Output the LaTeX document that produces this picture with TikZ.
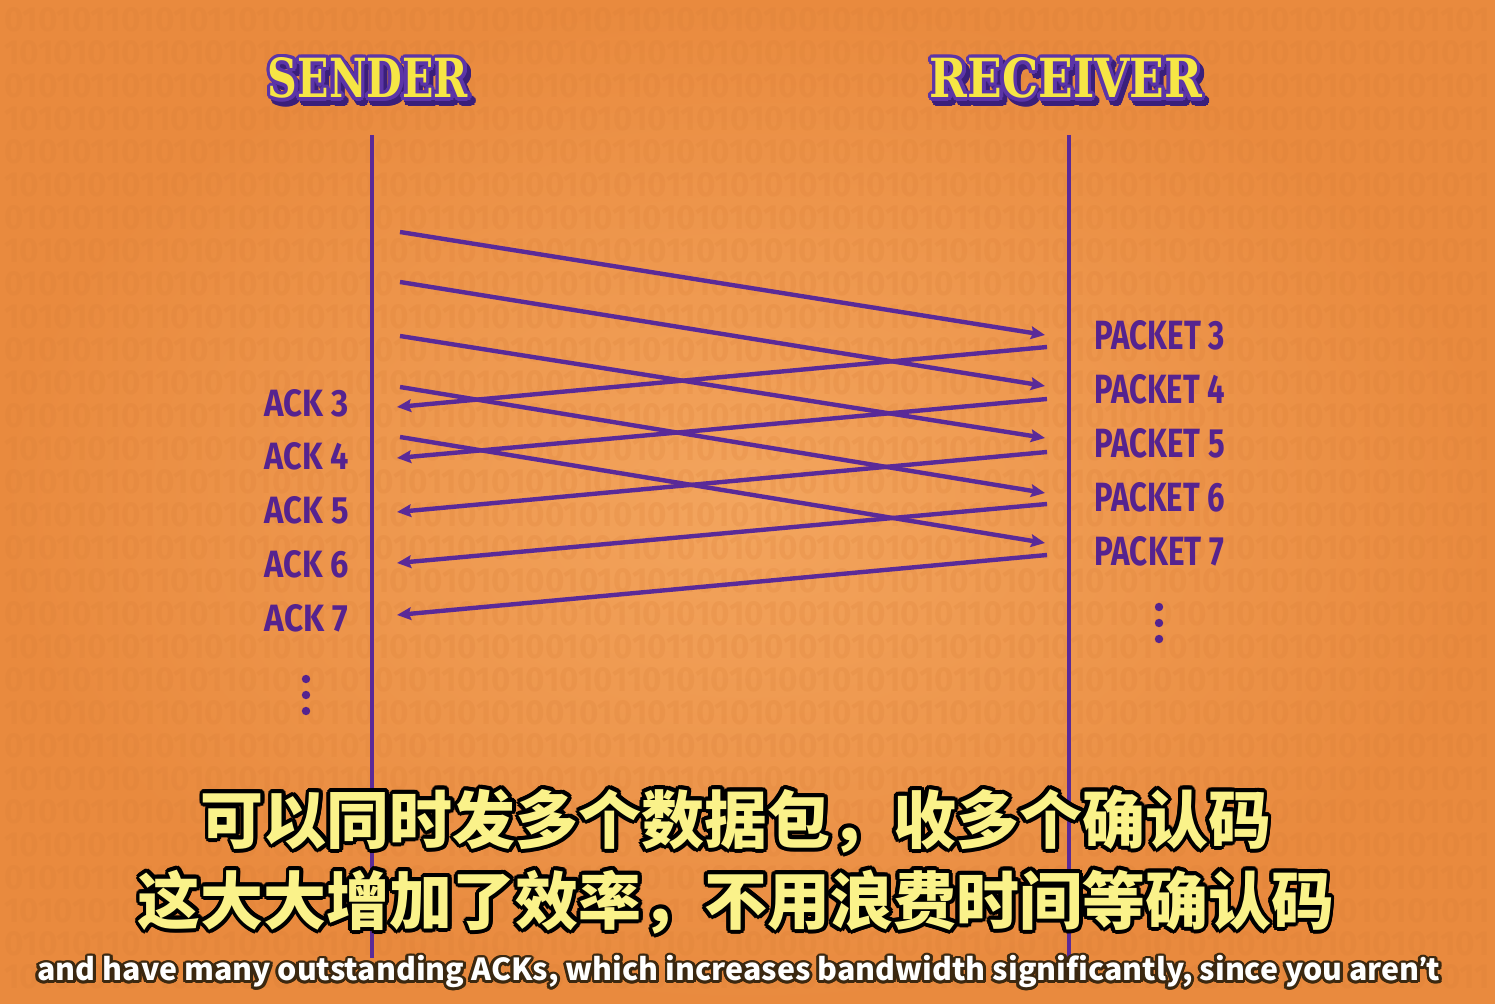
\documentclass[tikz,border=0pt]{standalone}
\usepackage{fontspec}
\setmainfont{Fira Sans}
\newfontfamily\cjkfont{Noto Sans CJK SC}
\newfontfamily\titlefont{DejaVu Serif}
\usetikzlibrary{arrows.meta}
\definecolor{bgin}{HTML}{F3A55E}
\definecolor{bgout}{HTML}{E98A3E}
\definecolor{lin}{HTML}{5A2A98}
\definecolor{lab}{HTML}{55238F}
\definecolor{ttlyel}{HTML}{F6E645}
\definecolor{ttlout}{HTML}{5B35A8}
\definecolor{ttlshd}{HTML}{3A1F7A}
\definecolor{subyel}{HTML}{FAF28A}
\definecolor{digitcol}{HTML}{D97E36}
\definecolor{engout}{HTML}{3B2810}
% outlined text: name, position, fill colour, outline colour, outline radius, content
\newcommand\outtxt[6]{%
  \foreach \a in {0,22.5,...,337.5}{\node[text=#4,inner sep=0pt] at ([shift={(\a:#5)}]#2) {#6};}
  \node[text=#3,inner sep=0pt] (#1) at (#2) {#6};}
\begin{document}
\begin{tikzpicture}[x=0.01cm,y=-0.01cm,
  vline/.style={draw=lin,line width=1pt},
  msg/.style={draw=lin,line width=1.25pt,-{Stealth[length=4pt,width=3.6pt,inset=0.6pt]}},
  plab/.style={anchor=west,inner sep=0pt,text=lab,font=\bfseries},
  dotnode/.style={circle,fill=lab,inner sep=0pt,minimum size=2.4pt},
  digits/.style={inner sep=0pt,text=digitcol,opacity=0.2,font=\bfseries}]
\useasboundingbox (0,0) rectangle (1495,1004);
\shade[inner color=bgin,outer color=bgout] (0,0) rectangle (1495,1004);
% faint binary texture
\foreach \r in {20,86,...,1000}{
  \node[digits] at (747,\r) {\resizebox{14.85cm}{0.24cm}{0101011010101101010101010110101010101101010101001010101011010101010101011010101010101101}};}
\foreach \r in {53,119,...,990}{
  \node[digits] at (747,\r) {\resizebox{14.85cm}{0.24cm}{1010101011010101010110101010101001010101101010101010101101010101010110101010101010101011}};}
% titles
\outtxt{sendershd}{372,83}{ttlshd}{ttlshd}{1pt}{\resizebox{2.00cm}{0.40cm}{\titlefont\bfseries SENDER}}
\outtxt{sender}{368,78}{ttlyel}{ttlout}{1pt}{\resizebox{2.00cm}{0.40cm}{\titlefont\bfseries SENDER}}
\outtxt{receivershd}{1070,83}{ttlshd}{ttlshd}{1pt}{\resizebox{2.72cm}{0.40cm}{\titlefont\bfseries RECEIVER}}
\outtxt{receiver}{1066,78}{ttlyel}{ttlout}{1pt}{\resizebox{2.72cm}{0.40cm}{\titlefont\bfseries RECEIVER}}
% timelines
\coordinate (stop) at (372,135); \coordinate (sbot) at (372,958);
\coordinate (rtop) at (1069,135); \coordinate (rbot) at (1069,958);
\draw[vline] (stop) -- (sbot);
\draw[vline] (rtop) -- (rbot);
% packet arrows
\coordinate (s3) at (400,232); \coordinate (r3) at (1045,335);
\coordinate (s4) at (400,282); \coordinate (r4) at (1045,386);
\coordinate (s5) at (400,336); \coordinate (r5) at (1045,438);
\coordinate (s6) at (400,387); \coordinate (r6) at (1045,493);
\coordinate (s7) at (400,437); \coordinate (r7) at (1045,543);
\foreach \k in {3,...,7}{\draw[msg] (s\k) -- (r\k);}
% ack arrows
\coordinate (ra3) at (1047,347); \coordinate (sa3) at (397,407);
\coordinate (ra4) at (1047,399); \coordinate (sa4) at (397,458);
\coordinate (ra5) at (1047,452); \coordinate (sa5) at (397,512);
\coordinate (ra6) at (1047,504); \coordinate (sa6) at (397,563);
\coordinate (ra7) at (1047,555); \coordinate (sa7) at (397,615);
\foreach \k in {3,...,7}{\draw[msg] (ra\k) -- (sa\k);}
% labels
\node[plab] (p3) at (1094,335) {\resizebox{1.30cm}{0.29cm}{PACKET 3}};
\node[plab] (p4) at (1094,389) {\resizebox{1.30cm}{0.29cm}{PACKET 4}};
\node[plab] (p5) at (1094,443) {\resizebox{1.30cm}{0.29cm}{PACKET 5}};
\node[plab] (p6) at (1094,497) {\resizebox{1.30cm}{0.29cm}{PACKET 6}};
\node[plab] (p7) at (1094,551) {\resizebox{1.29cm}{0.29cm}{PACKET 7}};
\node[plab] (a3) at (264,403) {\resizebox{0.84cm}{0.27cm}{ACK 3}};
\node[plab] (a4) at (264,456) {\resizebox{0.84cm}{0.27cm}{ACK 4}};
\node[plab] (a5) at (264,510) {\resizebox{0.84cm}{0.27cm}{ACK 5}};
\node[plab] (a6) at (264,564) {\resizebox{0.84cm}{0.27cm}{ACK 6}};
\node[plab] (a7) at (264,618) {\resizebox{0.83cm}{0.27cm}{ACK 7}};
% continuation dots
\node[dotnode] (sd1) at (306,679) {};
\node[dotnode] (sd2) at (306,695) {};
\node[dotnode] (sd3) at (306,711) {};
\node[dotnode] (rd1) at (1159,607) {};
\node[dotnode] (rd2) at (1159,623) {};
\node[dotnode] (rd3) at (1159,639) {};
% subtitles
\outtxt{sub1}{736,821}{subyel}{black}{1.1pt}{\cjkfont\bfseries\fontsize{17.9pt}{20pt}\selectfont 可以同时发多个数据包，收多个确认码}
\outtxt{sub2}{736,902}{subyel}{black}{1.1pt}{\cjkfont\bfseries\fontsize{17.9pt}{20pt}\selectfont 这大大增加了效率，不用浪费时间等确认码}
\outtxt{sub3}{739,972}{white}{engout}{0.8pt}{\resizebox{14.02cm}{!}{\cjkfont\bfseries and have many outstanding ACKs, which increases bandwidth significantly, since you aren{\rmfamily\bfseries ’}t}}
\end{tikzpicture}
\end{document}
